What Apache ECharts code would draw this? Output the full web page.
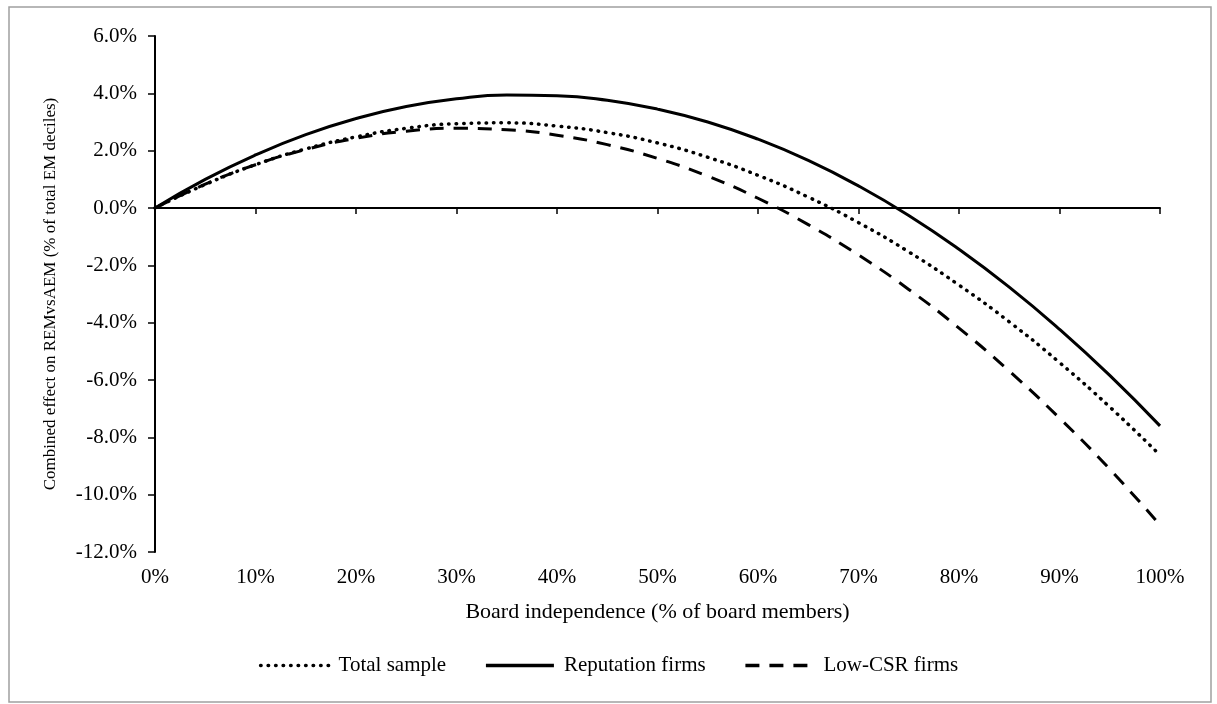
<!DOCTYPE html>
<html>
<head>
<meta charset="utf-8">
<script src="https://cdn.jsdelivr.net/npm/echarts@6/dist/echarts.min.js"></script>
<style>
    html, body { margin: 0; padding: 0; background: #fff; }
    #chart { width: 1217px; height: 704px; }
</style>
</head>
<body>
<div id="chart"></div>
<script>
// board independence, % of board members
let boardPct = [0, 5, 10, 15, 20, 25, 30, 35, 40, 45, 50, 55, 60, 65, 70, 75, 80, 85, 90, 95, 100]
// combined effect, % of total EM deciles
let totalSample = [0, 0.82, 1.51, 2.06, 2.48, 2.78, 2.94, 2.97, 2.86, 2.63, 2.27, 1.77, 1.14, 0.38, -0.51, -1.53, -2.69, -3.97, -5.39, -6.94, -8.62]
let reputationFirms = [0, 1.00, 1.85, 2.56, 3.12, 3.54, 3.81, 3.94, 3.92, 3.76, 3.45, 3.00, 2.40, 1.66, 0.77, -0.26, -1.44, -2.76, -4.23, -5.84, -7.60]
let lowCsrFirms = [0, 0.83, 1.51, 2.04, 2.43, 2.68, 2.78, 2.73, 2.54, 2.21, 1.73, 1.11, 0.34, -0.58, -1.64, -2.84, -4.19, -5.69, -7.33, -9.11, -11.06]
let seriesNames = ['Total sample', 'Reputation firms', 'Low-CSR firms']

let font = 'Liberation Serif, Times New Roman, serif'
let chart = echarts.init(document.getElementById('chart'))

function pairs (ys) {
    return boardPct.map((x, i) => [x, ys[i]])
}

let option = {
    animation: false,
    backgroundColor: '#fff',
    textStyle: { fontFamily: font, color: '#000' },
    graphic: [{
        type: 'rect',
        shape: { x: 9, y: 7, width: 1202, height: 695 },
        style: { fill: 'none', stroke: '#a0a0a0', lineWidth: 1.5 },
        silent: true
    }],
    grid: { left: 155, right: 57, top: 36, bottom: 152 },
    legend: {
        bottom: 23,
        left: 'center',
        itemWidth: 68,
        itemHeight: 12,
        itemGap: 38,
        itemStyle: { opacity: 0 }, // 只显示线型, 不显示圆点
        lineStyle: { width: 3.5 },
        textStyle: { fontFamily: font, fontSize: 21, color: '#000', padding: [0, 0, 0, 5] },
        data: seriesNames
    },
    xAxis: [
        {
            // axis line through zero
            type: 'value',
            min: 0,
            max: 100,
            interval: 10,
            axisLine: { onZero: true, lineStyle: { color: '#000', width: 2 } },
            axisTick: { show: true, inside: false, length: 6, lineStyle: { color: '#000', width: 1.5 } },
            axisLabel: { show: false },
            splitLine: { show: false }
        },
        {
            // labels at the bottom of the plot
            type: 'value',
            position: 'bottom',
            min: 0,
            max: 100,
            interval: 10,
            axisLine: { show: false, onZero: false },
            axisTick: { show: false },
            axisLabel: {
                margin: 15,
                fontFamily: font,
                fontSize: 21,
                color: '#000',
                formatter: v => v + '%'
            },
            splitLine: { show: false },
            name: 'Board independence (% of board members)',
            nameLocation: 'middle',
            nameGap: 49,
            nameTextStyle: { fontFamily: font, fontSize: 22, color: '#000' }
        }
    ],
    yAxis: {
        type: 'value',
        min: -12,
        max: 6,
        interval: 2,
        axisLine: { show: true, onZero: false, lineStyle: { color: '#000', width: 2 } },
        axisTick: { show: true, length: 7, lineStyle: { color: '#000', width: 1.5 } },
        axisLabel: {
            margin: 18,
            fontFamily: font,
            fontSize: 21,
            color: '#000',
            formatter: v => v.toFixed(1) + '%'
        },
        splitLine: { show: false },
        name: 'Combined effect on REMvsAEM (% of total EM deciles)',
        nameLocation: 'middle',
        nameGap: 96,
        nameTextStyle: { fontFamily: font, fontSize: 17, color: '#000' }
    },
    series: [
        {
            name: seriesNames[0],
            type: 'line',
            smooth: true,
            symbol: 'none',
            data: pairs(totalSample),
            lineStyle: { color: '#000', width: 3.5, type: [0.5, 7], cap: 'round' },
            itemStyle: { color: '#000' },
            z: 3
        },
        {
            name: seriesNames[1],
            type: 'line',
            smooth: true,
            symbol: 'none',
            data: pairs(reputationFirms),
            lineStyle: { color: '#000', width: 3, type: 'solid' },
            itemStyle: { color: '#000' },
            z: 4
        },
        {
            name: seriesNames[2],
            type: 'line',
            smooth: true,
            symbol: 'none',
            data: pairs(lowCsrFirms),
            lineStyle: { color: '#000', width: 3, type: [14, 10] },
            itemStyle: { color: '#000' },
            z: 2
        }
    ]
}
chart.setOption(option)
</script>
</body>
</html>
